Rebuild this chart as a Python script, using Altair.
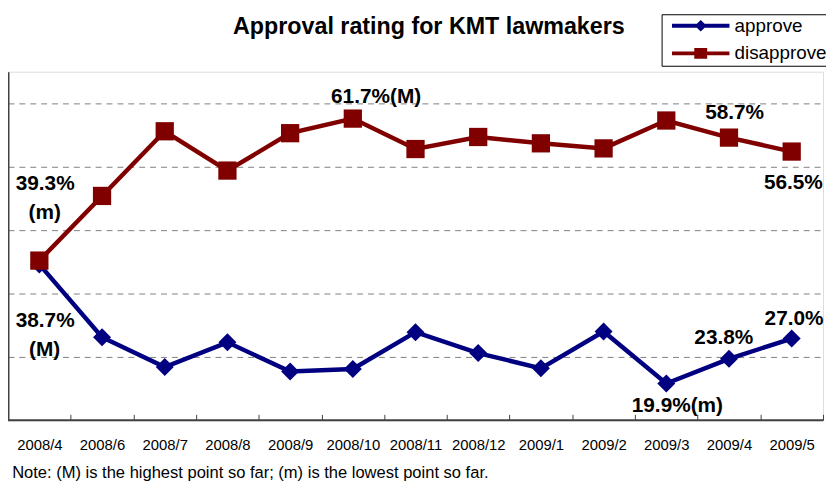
import altair as alt
import pandas as pd

# ---- data ----
months = ["2008/4", "2008/6", "2008/7", "2008/8", "2008/9", "2008/10", "2008/11",
          "2008/12", "2009/1", "2009/2", "2009/3", "2009/4", "2009/5"]
approve = [38.7, 27.2, 22.5, 26.4, 21.8, 22.2, 28.0, 24.7, 22.3, 28.1, 19.9, 23.8, 27.0]
disapprove = [39.3, 49.5, 59.7, 53.5, 59.4, 61.7, 56.9, 58.8, 57.8, 57.0, 61.4, 58.7, 56.5]
series_names = ["approve", "disapprove"]
series_colors = ["#000080", "#800000"]

y_domain = [14.1, 69.1]
grid_values = [24.1, 34.1, 44.1, 54.1, 64.1]

label_texts = ["61.7%(M)", "58.7%", "56.5%", "27.0%", "23.8%", "19.9%(m)",
               "39.3%", "(m)", "38.7%", "(M)"]
label_months = ["2008/10", "2009/4", "2009/5", "2009/5", "2009/4", "2009/3",
                "2008/4", "2008/4", "2008/4", "2008/4"]
label_values = [61.7, 58.7, 56.5, 27.0, 23.8, 19.9, 39.3, 39.3, 38.7, 38.7]
# styling offsets (pixels) for the annotation labels
label_dx = [23.5, 5.7, 1.7, 2.4, -5.2, 11.2, 5.9, 5.4, 5.9, 5.4]
label_dy = [-15.7, -18.3, 37.7, -13.4, -14.9, 28.4, -71.4, -42.4, 63.7, 92.4]

title_text = "Approval rating for KMT lawmakers"
note_text = "Note: (M) is the highest point so far; (m) is the lowest point so far."

FONT = "Liberation Sans"

df = pd.DataFrame({
    "month": months * 2,
    "series": ["approve"] * len(months) + ["disapprove"] * len(months),
    "value": approve + disapprove,
})

x_scale = alt.Scale(type="band", domain=months, paddingInner=0, paddingOuter=0)
y_scale = alt.Scale(domain=y_domain, nice=False, zero=False)

x_axis = alt.Axis(
    title=note_text, titleFont=FONT, titleFontSize=16.7, titleFontWeight="normal",
    titleColor="black", titleAnchor="start", titleAlign="left",
    titleBaseline="alphabetic", titleX=3.7, titleY=64,
    labelAngle=0, labelFont=FONT, labelFontSize=15, labelColor="black",
    labelPadding=29, labelBaseline="alphabetic",
    ticks=True, tickBand="extent", tickSize=6, tickColor="#404040", tickWidth=1,
    domain=False, offset=-6, grid=False,
)
y_axis = alt.Axis(
    values=grid_values, grid=True, gridDash=[6, 5], gridColor="#808080",
    gridWidth=1, labels=False, ticks=False, domain=True,
    domainColor="#404040", domainWidth=2, title=None,
)

X = alt.X("month:N", scale=x_scale, axis=x_axis)
Y = alt.Y("value:Q", scale=y_scale, axis=y_axis)

base = alt.Chart(df)

bottom_line = alt.Chart(pd.DataFrame({"value": [y_domain[0]]})).mark_rule(
    color="#404040", strokeWidth=2
).encode(y=alt.Y("value:Q", scale=y_scale, axis=y_axis))

approve_line = base.transform_filter(alt.datum.series == "approve").mark_line(
    color=series_colors[0], strokeWidth=4.5,
    point=alt.OverlayMarkDef(shape="diamond", size=330, filled=True,
                             color=series_colors[0], opacity=1),
).encode(x=X, y=Y)

disapprove_line = base.transform_filter(alt.datum.series == "disapprove").mark_line(
    color=series_colors[1], strokeWidth=4.5,
    point=alt.OverlayMarkDef(shape="square", size=340, filled=True,
                             color=series_colors[1], opacity=1),
).encode(x=X, y=Y)

# legend symbols: a line segment with the marker, in units of 7 px (symbol size 196)
diamond_path = "M-0.1429,-0.2857H8.1429V0.2857H-0.1429Z M4.0,-0.83L4.857,0L4.0,0.83L3.143,0Z"
square_path = "M-0.1429,-0.2857H8.1429V0.2857H-0.1429Z M3.071,-0.79H4.929V0.79H3.071Z"

leg = alt.Legend(
    title=None, orient="none", legendX=660, legendY=-58,
    symbolSize=196, symbolStrokeWidth=0, labelFont=FONT, labelFontSize=19,
    labelColor="black", labelOffset=52.7, padding=2, rowPadding=8,
    labelExpr="datum.label + '  '",
    strokeColor="black", fillColor="white",
)

legend_layer = base.mark_point(filled=True, clip=True, size=10, opacity=1).encode(
    x=X,
    y=alt.datum(-100),
    color=alt.Color("series:N", scale=alt.Scale(domain=series_names, range=series_colors), legend=leg),
    shape=alt.Shape("series:N", scale=alt.Scale(domain=series_names, range=[diamond_path, square_path]), legend=leg),
)

label_layers = []
for t, m, v, dx, dy in zip(label_texts, label_months, label_values, label_dx, label_dy):
    ldf = pd.DataFrame({"month": [m], "value": [v], "text": [t]})
    label_layers.append(
        alt.Chart(ldf).mark_text(
            font=FONT, fontSize=21, fontWeight="bold", color="black",
            align="center", baseline="alphabetic", dx=dx, dy=dy,
        ).encode(x=X, y=Y, text="text:N")
    )

chart = alt.layer(
    bottom_line, approve_line, disapprove_line, legend_layer, *label_layers
).properties(
    width=823, height=352,
    padding={"left": 0, "top": 62, "right": 3, "bottom": 62},
    autosize=alt.AutoSizeParams(type="none"),
    title=alt.TitleParams(
        text=title_text, font=FONT, fontSize=23.5, fontWeight="bold", color="black",
        anchor="middle", frame="group", baseline="alphabetic", offset=-43.8, dx=13.5,
    ),
).configure_view(
    stroke="#8c8c8c", strokeWidth=2
).configure(font=FONT)

chart.save("out.html", embed_options={"renderer": "svg", "actions": False})
